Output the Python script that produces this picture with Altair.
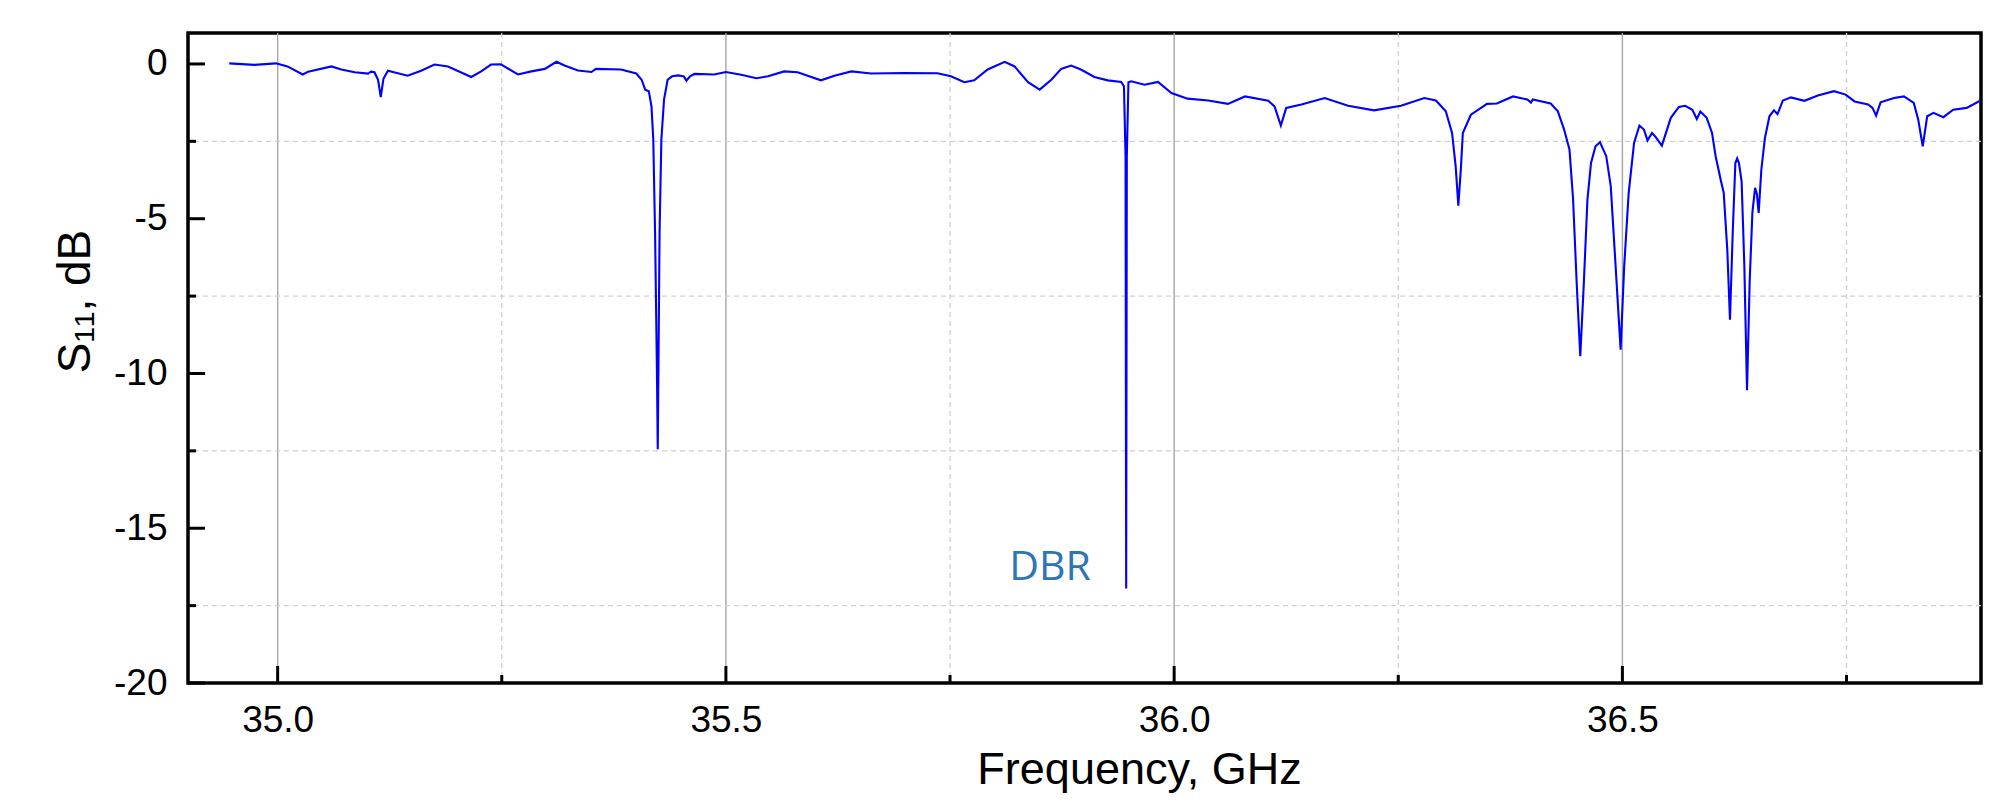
import altair as alt
import pandas as pd

# ---- data ----
freq = [34.946, 34.974, 34.998, 35.011, 35.028, 35.034, 35.060, 35.071, 35.086, 35.101,
        35.104, 35.108, 35.112, 35.115, 35.118, 35.123, 35.145, 35.160, 35.175, 35.190,
        35.216, 35.227, 35.238, 35.249, 35.268, 35.283, 35.298, 35.311, 35.320, 35.335,
        35.350, 35.355, 35.383, 35.400, 35.406, 35.410, 35.414, 35.417, 35.419, 35.421,
        35.423, 35.424, 35.426, 35.428, 35.431, 35.435, 35.440, 35.447, 35.453, 35.456,
        35.460, 35.465, 35.487, 35.500, 35.517, 35.534, 35.547, 35.565, 35.580, 35.606,
        35.621, 35.640, 35.662, 35.699, 35.736, 35.751, 35.766, 35.777, 35.792, 35.811,
        35.822, 35.837, 35.850, 35.863, 35.874, 35.885, 35.896, 35.911, 35.926, 35.941,
        35.944, 35.9458, 35.9465, 35.9472, 35.949, 35.952, 35.967, 35.982, 35.997, 36.015,
        36.038, 36.060, 36.079, 36.105, 36.112, 36.119, 36.125, 36.142, 36.168, 36.194,
        36.223, 36.253, 36.279, 36.292, 36.303, 36.310, 36.314, 36.317, 36.320, 36.322,
        36.331, 36.349, 36.360, 36.378, 36.394, 36.398, 36.400, 36.420, 36.428, 36.435,
        36.441, 36.445, 36.449, 36.453, 36.457, 36.461, 36.465, 36.470, 36.475, 36.482,
        36.487, 36.492, 36.498, 36.502, 36.507, 36.513, 36.519, 36.524, 36.528, 36.533,
        36.537, 36.544, 36.554, 36.563, 36.570, 36.578, 36.583, 36.587, 36.594, 36.600,
        36.604, 36.610, 36.613, 36.617, 36.620, 36.623, 36.626, 36.628, 36.630, 36.633,
        36.636, 36.639, 36.642, 36.645, 36.648, 36.650, 36.652, 36.655, 36.659, 36.664,
        36.669, 36.673, 36.679, 36.688, 36.703, 36.718, 36.736, 36.749, 36.759, 36.774,
        36.779, 36.783, 36.788, 36.803, 36.814, 36.825, 36.830, 36.835, 36.840, 36.847,
        36.858, 36.869, 36.884, 36.899]
s11 = [0.02, -0.03, 0.02, -0.08, -0.34, -0.25, -0.08, -0.18, -0.27, -0.31,
       -0.25, -0.27, -0.51, -1.07, -0.48, -0.22, -0.38, -0.22, -0.02, -0.08,
       -0.42, -0.24, -0.02, -0.01, -0.34, -0.24, -0.16, 0.07, -0.05, -0.21,
       -0.26, -0.16, -0.18, -0.31, -0.51, -0.83, -0.88, -1.37, -2.45, -5.46,
       -9.77, -12.45, -5.46, -2.45, -1.15, -0.51, -0.40, -0.37, -0.40, -0.54,
       -0.40, -0.32, -0.34, -0.26, -0.35, -0.46, -0.40, -0.24, -0.27, -0.53,
       -0.38, -0.24, -0.31, -0.29, -0.30, -0.40, -0.59, -0.53, -0.18, 0.07,
       -0.08, -0.59, -0.83, -0.51, -0.16, -0.05, -0.18, -0.42, -0.53, -0.58,
       -0.72, -3.0, -16.95, -3.0, -0.59, -0.56, -0.67, -0.58, -0.94, -1.12,
       -1.18, -1.29, -1.05, -1.19, -1.37, -1.99, -1.42, -1.31, -1.10, -1.35,
       -1.50, -1.35, -1.10, -1.18, -1.53, -2.23, -3.3, -4.58, -3.3, -2.23,
       -1.64, -1.29, -1.28, -1.05, -1.15, -1.25, -1.15, -1.28, -1.53, -2.12,
       -2.77, -4.38, -7.07, -9.44, -7.07, -4.38, -3.20, -2.66, -2.53, -2.98,
       -3.95, -6.32, -9.23, -6.54, -4.17, -2.55, -1.99, -2.12, -2.47, -2.23,
       -2.36, -2.64, -1.74, -1.39, -1.35, -1.48, -1.78, -1.54, -1.74, -2.23,
       -2.98, -3.79, -4.16, -6.0, -8.26, -5.5, -3.2, -3.05, -3.2, -3.8,
       -6.5, -10.54, -7.0, -4.8, -4.0, -4.2, -4.81, -3.41, -2.39, -1.69,
       -1.50, -1.62, -1.18, -1.08, -1.19, -1.02, -0.88, -0.99, -1.21, -1.31,
       -1.42, -1.67, -1.24, -1.10, -1.05, -1.26, -1.80, -2.66, -1.69, -1.58,
       -1.72, -1.48, -1.42, -1.19]

x_major = [35.0, 35.5, 36.0, 36.5]
x_minor = [35.25, 35.75, 36.25, 36.75]
y_major = [0, -5, -10, -15, -20]
y_minor = [-2.5, -7.5, -12.5, -17.5]

label_text = ["DBR"]
label_x = [35.907]
label_y = [-16.66]

W, H = 1793, 650
xs = alt.Scale(domain=[34.9, 36.9], nice=False, zero=False)
ys = alt.Scale(domain=[-20, 1], nice=False, zero=False)

df = pd.DataFrame({"f": freq, "s": s11})
dxM = pd.DataFrame({"v": x_major})
dxm = pd.DataFrame({"v": x_minor})
dyM = pd.DataFrame({"v": y_major})
dym = pd.DataFrame({"v": y_minor})
dlab = pd.DataFrame({"t": label_text, "x": label_x, "y": label_y})

FONT = "Liberation Sans"

x_axis = alt.Axis(values=x_major, format=".1f", ticks=False, grid=False, domain=False,
                  labelFont=FONT, labelFontSize=37, labelColor="black",
                  labelBaseline="alphabetic", labelPadding=48,
                  title="Frequency, GHz", titleFont=FONT, titleFontSize=45,
                  titleFontWeight="normal", titleColor="black",
                  titleBaseline="alphabetic", titleX=951, titleY=100, titleAlign="center")
y_axis = alt.Axis(values=y_major, ticks=False, grid=False, domain=False,
                  labelExpr="'' + datum.value",
                  labelFont=FONT, labelFontSize=37, labelColor="black",
                  labelPadding=21,
                  title="S₁₁, dB", titleFont=FONT, titleFontSize=46,
                  titleFontWeight="normal", titleColor="black",
                  titleBaseline="alphabetic", titleX=-99, titleY=268, titleAlign="center")


def X(field):
    return alt.X(field, scale=xs, axis=x_axis)


def Y(field):
    return alt.Y(field, scale=ys, axis=y_axis)


grid_major = alt.Chart(dxM).mark_rule(color="#a6a6a6", strokeWidth=1.4).encode(x=X("v:Q"))
grid_minor_x = alt.Chart(dxm).mark_rule(color="#cfcfcf", strokeWidth=1.3, strokeDash=[5, 4]).encode(x=X("v:Q"))
grid_minor_y = alt.Chart(dym).mark_rule(color="#cfcfcf", strokeWidth=1.3, strokeDash=[5, 4]).encode(y=Y("v:Q"))

line = alt.Chart(df).mark_line(color="#0000ff", strokeWidth=2.1, clip=True).encode(
    x=X("f:Q"), y=Y("s:Q"), order=alt.Order("f:Q"))

tick_xM = alt.Chart(dxM).mark_rule(color="black", strokeWidth=3).encode(
    x=X("v:Q"), y=alt.value(H), y2=alt.value(H - 17))
tick_xm = alt.Chart(dxm).mark_rule(color="black", strokeWidth=3).encode(
    x=X("v:Q"), y=alt.value(H), y2=alt.value(H - 8))
tick_yM = alt.Chart(dyM).mark_rule(color="black", strokeWidth=3).encode(
    y=Y("v:Q"), x=alt.value(0), x2=alt.value(17))
tick_ym = alt.Chart(dym).mark_rule(color="black", strokeWidth=3).encode(
    y=Y("v:Q"), x=alt.value(0), x2=alt.value(8))

label = alt.Chart(dlab).mark_text(align="right", baseline="alphabetic", font="Open Sans",
                                  fontSize=41, color="#2E75B6").encode(
    x=X("x:Q"), y=Y("y:Q"), text="t:N")

chart = alt.layer(grid_major, grid_minor_x, grid_minor_y, line,
                  tick_xM, tick_xm, tick_yM, tick_ym, label).properties(
    width=W, height=H,
    autosize=alt.AutoSizeParams(type="none"),
    padding={"left": 180, "top": 25, "right": 10, "bottom": 110},
    background="white",
).configure_view(stroke="black", strokeWidth=3.5)

chart.save("out.html", embed_options={"renderer": "svg", "actions": False})
